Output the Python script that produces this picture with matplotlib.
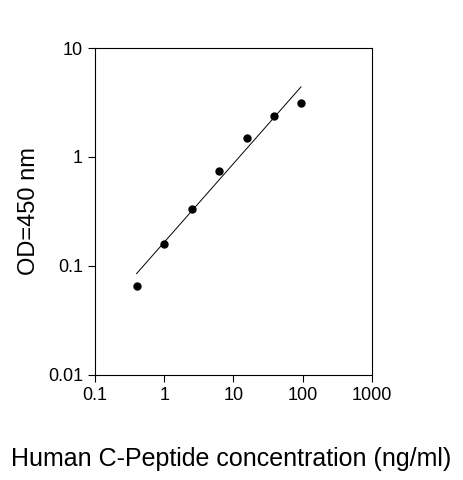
import matplotlib
matplotlib.use("Agg")
import matplotlib.pyplot as plt
from matplotlib.ticker import FixedLocator, NullLocator

conc = [0.4, 1.0, 2.5, 6.25, 15.6, 39.0, 95.0]
od = [0.065, 0.16, 0.33, 0.75, 1.5, 2.4, 3.1]
fit_x = [0.4, 95.0]
fit_y = [0.085, 4.4]
xticks = [0.1, 1, 10, 100, 1000]
xticklabels = ["0.1", "1", "10", "100", "1000"]
yticks = [0.01, 0.1, 1, 10]
yticklabels = ["0.01", "0.1", "1", "10"]

plt.rcParams["font.family"] = ["Liberation Sans", "DejaVu Sans"]
fig = plt.figure(figsize=(4.63, 4.8), dpi=100)
ax = fig.add_axes([0.205, 0.219, 0.598, 0.681])
ax.set_xscale("log")
ax.set_yscale("log")
ax.plot(fit_x, fit_y, color="black", linewidth=0.7)
ax.plot(conc, od, "o", color="black", markersize=5)
ax.set_xlim(0.1, 1000)
ax.set_ylim(0.01, 10)
ax.xaxis.set_major_locator(FixedLocator(xticks))
ax.yaxis.set_major_locator(FixedLocator(yticks))
ax.xaxis.set_minor_locator(NullLocator())
ax.yaxis.set_minor_locator(NullLocator())
ax.set_xticklabels(xticklabels, fontsize=13)
ax.set_yticklabels(yticklabels, fontsize=13)
ax.tick_params(direction="out", length=5, width=0.8)
for s in ax.spines.values():
    s.set_linewidth(0.8)
ax.set_ylabel("OD=450 nm", fontsize=17, labelpad=6)
fig.text(0.5, 0.03, "Human C-Peptide concentration (ng/ml)", ha="center", fontsize=18)
fig.savefig("out.png", dpi=100)
